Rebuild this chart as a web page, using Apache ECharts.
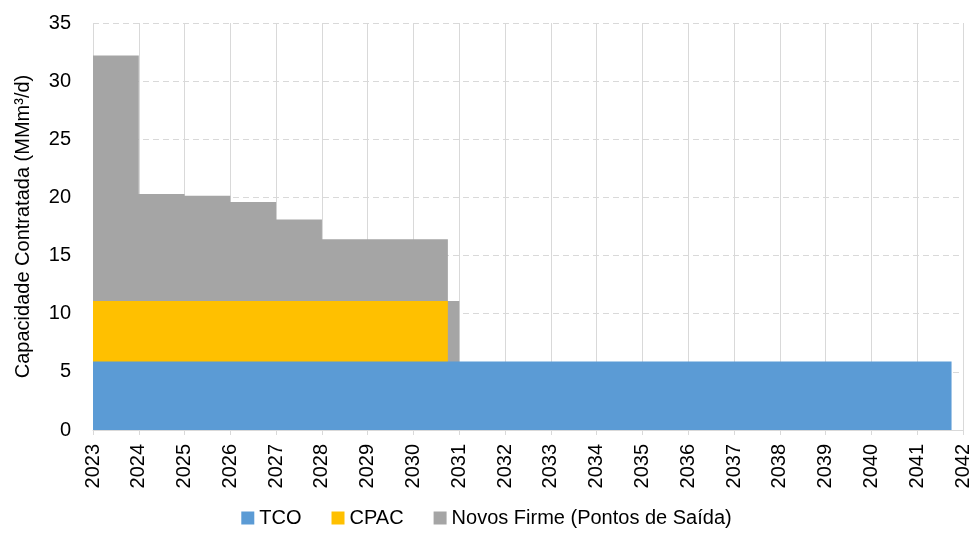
<!DOCTYPE html>
<html>
<head>
<meta charset="utf-8">
<script src="https://cdn.jsdelivr.net/npm/echarts@6/dist/echarts.min.js"></script>
<style>
  html, body { margin: 0; padding: 0; background: #fff; }
  #chart { width: 973px; height: 538px; }
</style>
</head>
<body>
<div id="chart"></div>
<script>
// step breakpoints (years); each value holds until the next breakpoint
const breakpoints = [2023, 2024, 2025, 2026, 2027, 2028, 2029, 2030, 2030.75, 2031, 2041.75];
const tco = [5.9, 5.9, 5.9, 5.9, 5.9, 5.9, 5.9, 5.9, 5.9, 5.9, 0];
const cpac = [5.2, 5.2, 5.2, 5.2, 5.2, 5.2, 5.2, 5.2, 0, 0, 0];
const novosFirme = [21.1, 9.2, 9.05, 8.5, 7.0, 5.3, 5.3, 5.3, 5.2, 0, 0];
const seriesNames = ["TCO", "CPAC", "Novos Firme (Pontos de Saída)"];
const colors = ["#5b9bd5", "#ffc000", "#a5a5a5"];

const font = "Liberation Sans, Arial, sans-serif";
const chart = echarts.init(document.getElementById("chart"));

// cumulative tops; layers are drawn back to front, each filled down to zero
const layers = [tco, cpac, novosFirme];
const tops = layers.map((vals, k) =>
  vals.map((v, i) => {
    if (k > 0 && layers.slice(0, k + 1).every((a) => a[i] === 0)) return 0;
    if (k > 0 && vals[i] === 0 && layers.slice(0, k).some((a) => a[i] !== 0) && layers.slice(1, k + 1).every((a) => a[i] === 0)) return 0;
    return layers.slice(0, k + 1).reduce((s, arr) => s + arr[i], 0);
  })
);

function stepSeries(k) {
  const data = breakpoints.map((x, i) => [x, +tops[k][i].toFixed(2)]);
  return {
    name: seriesNames[k],
    type: "custom",
    z: 10 - k,
    itemStyle: { color: colors[k] },
    encode: { x: 0, y: 1 },
    data: data,
    renderItem: (params, api) => {
      if (params.dataIndex !== 0) return null;
      const pts = [api.coord([data[0][0], 0])];
      for (let i = 0; i < data.length - 1; i++) {
        pts.push(api.coord([data[i][0], data[i][1]]));
        pts.push(api.coord([data[i + 1][0], data[i][1]]));
      }
      pts.push(api.coord([data[data.length - 1][0], 0]));
      return {
        type: "polygon",
        shape: { points: pts },
        style: { fill: colors[k], stroke: null },
        silent: true,
      };
    },
  };
}

chart.setOption({
  animation: false,
  color: colors,
  grid: { left: 93, right: 10, top: 23, bottom: 108 },
  legend: {
    bottom: 5,
    left: "center",
    icon: "rect",
    itemWidth: 13,
    itemHeight: 13,
    itemGap: 30,
    textStyle: { fontFamily: font, fontSize: 20, color: "#000" },
    data: seriesNames,
  },
  xAxis: {
    type: "value",
    min: 2023,
    max: 2042,
    interval: 1,
    axisLine: { lineStyle: { color: "#d9d9d9", width: 1 } },
    axisTick: { show: true, length: 5, lineStyle: { color: "#d9d9d9" } },
    axisLabel: {
      rotate: 90,
      margin: 14,
      fontFamily: font,
      fontSize: 20,
      color: "#000",
      formatter: (v) => String(v),
    },
    splitLine: { show: true, lineStyle: { color: "#d9d9d9", width: 1 } },
  },
  yAxis: {
    type: "value",
    min: 0,
    max: 35,
    interval: 5,
    name: "Capacidade Contratada (MMm³/d)",
    nameLocation: "middle",
    nameGap: 60,
    nameTextStyle: { fontFamily: font, fontSize: 20, color: "#000" },
    axisLine: { show: false },
    axisTick: { show: false },
    axisLabel: { margin: 22, fontFamily: font, fontSize: 20, color: "#000" },
    splitLine: { show: true, lineStyle: { color: "#d9d9d9", type: [6, 4], width: 1 } },
  },
  series: [stepSeries(2), stepSeries(1), stepSeries(0)],
});
</script>
</body>
</html>
